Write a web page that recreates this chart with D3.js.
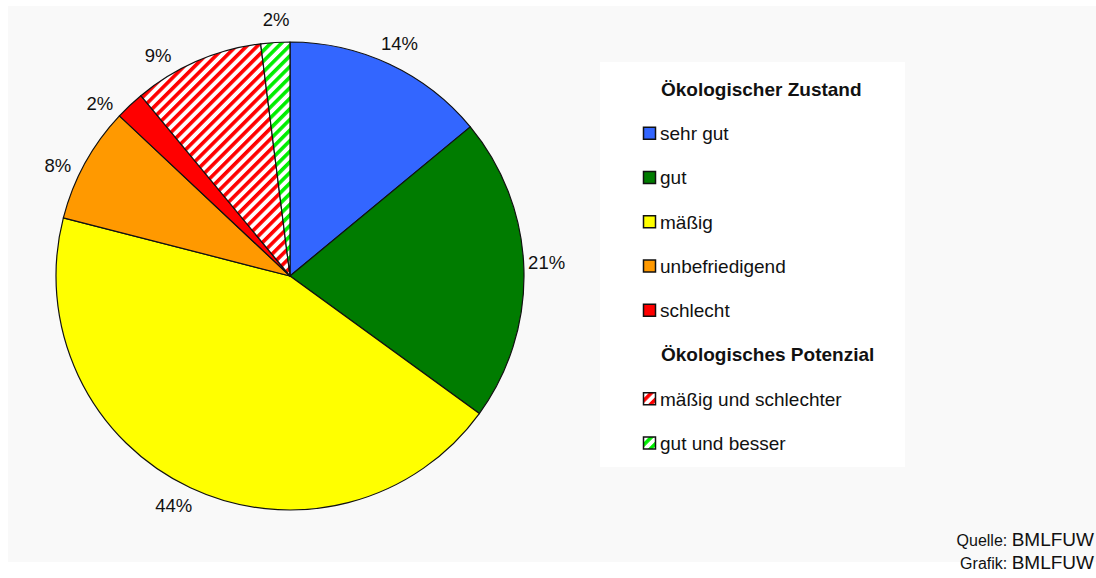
<!DOCTYPE html>
<html>
<head>
<meta charset="utf-8">
<script src="https://cdn.jsdelivr.net/npm/d3@7"></script>
<style>
	body { margin: 0; background: #fff; }
	svg { display: block; font-family: "Liberation Sans", Arial, sans-serif; }
</style>
</head>
<body>
<svg id="chart" width="1096" height="578"></svg>
<script>
// Ökologischer Zustand / Potenzial - pie chart

var categories = ['sehr gut', 'gut', 'mäßig', 'unbefriedigend', 'schlecht', 'mäßig und schlechter', 'gut und besser'];
var shares = [14, 21, 44, 8, 2, 9, 2];
var groups = ['Ökologischer Zustand', 'Ökologischer Zustand', 'Ökologischer Zustand', 'Ökologischer Zustand', 'Ökologischer Zustand', 'Ökologisches Potenzial', 'Ökologisches Potenzial'];
var colors = ['#3366ff', '#007c00', '#ffff00', '#ff9900', '#ff0000', 'hatch-red', 'hatch-green'];
// label angle shift in degrees (excel pushes left labels a bit)
var labelShift = [0, -1.3, 1.7, -3.4, -4.5, -7.5, 0.5];
var sourceLines = [['Quelle:', 'BMLFUW'], ['Grafik:', 'BMLFUW']];

var svg = d3.select('#chart');
var cx = 290, cy = 276, radius = 234;

// background panels
svg.append('rect').attr('x', 8).attr('y', 6).attr('width', 1088).attr('height', 556).attr('fill', '#f9f9f9');
svg.append('rect').attr('x', 600).attr('y', 62).attr('width', 305).attr('height', 405).attr('fill', '#ffffff');

// hatch patterns
var defs = svg.append('defs');
function hatch(id, col) {
	var p = defs.append('pattern').attr('id', id)
		.attr('patternUnits', 'userSpaceOnUse')
		.attr('width', 7.5).attr('height', 7.5)
		.attr('patternTransform', 'rotate(45)');
	p.append('rect').attr('width', 7.5).attr('height', 7.5).attr('fill', '#fff');
	p.append('rect').attr('width', 3.6).attr('height', 7.5).attr('fill', col);
}
hatch('hatch-red', '#ff0000');
hatch('hatch-green', '#00ee00');

function fillOf(c) {
	return c.indexOf('hatch') === 0 ? 'url(#' + c + ')' : c;
}

var pie = d3.pie().sort(null).value(function (d) { return d; });
var arcs = pie(shares);
var arc = d3.arc().innerRadius(0).outerRadius(radius);

var g = svg.append('g').attr('transform', 'translate(' + cx + ',' + cy + ')');

g.selectAll('path.slice')
	.data(arcs)
	.enter().append('path')
	.attr('class', 'slice')
	.attr('d', arc)
	.attr('fill', function (d, i) { return fillOf(colors[i]); })
	.attr('stroke', '#111')
	.attr('stroke-width', 1.2)
	.attr('stroke-linejoin', 'round');

// percent labels
var labelR = 257;
g.selectAll('text.pct')
	.data(arcs)
	.enter().append('text')
	.attr('class', 'pct')
	.attr('x', function (d, i) {
		var a = (d.startAngle + d.endAngle) / 2 + labelShift[i] * Math.PI / 180;
		return labelR * Math.sin(a);
	})
	.attr('y', function (d, i) {
		var a = (d.startAngle + d.endAngle) / 2 + labelShift[i] * Math.PI / 180;
		return -labelR * Math.cos(a);
	})
	.attr('text-anchor', 'middle')
	.attr('dy', '0.36em')
	.attr('font-size', 18.5)
	.attr('fill', '#111')
	.text(function (d) { return d.data + '%'; });

// legend
var legend = svg.append('g').attr('transform', 'translate(643,0)');
var rowStep = 44.25, rowY = 89;
var rows = [];
categories.forEach(function (c, i) {
	if (i === 0 || groups[i] !== groups[i - 1]) rows.push({title: groups[i]});
	rows.push({name: c, color: colors[i]});
});

var lrow = legend.selectAll('g.row')
	.data(rows)
	.enter().append('g')
	.attr('class', 'row')
	.attr('transform', function (d, i) { return 'translate(0,' + (rowY + i * rowStep) + ')'; });

lrow.filter(function (d) { return d.title; })
	.append('text')
	.attr('x', 18)
	.attr('dy', '0.36em')
	.attr('font-size', 19)
	.attr('font-weight', 'bold')
	.attr('fill', '#111')
	.text(function (d) { return d.title; });

var items = lrow.filter(function (d) { return !d.title; });
items.append('rect')
	.attr('x', 0.5).attr('y', -6)
	.attr('width', 12).attr('height', 12)
	.attr('fill', function (d) { return fillOf(d.color); })
	.attr('stroke', '#111')
	.attr('stroke-width', 1.5);
items.append('text')
	.attr('x', 17)
	.attr('dy', '0.36em')
	.attr('font-size', 19)
	.attr('fill', '#111')
	.text(function (d) { return d.name; });

// source note
var src = svg.append('g').attr('transform', 'translate(1094,0)');
sourceLines.forEach(function (l, i) {
	var t = src.append('text')
		.attr('y', 546 + i * 23)
		.attr('text-anchor', 'end')
		.attr('fill', '#111');
	t.append('tspan').attr('font-size', 16).text(l[0] + ' ');
	t.append('tspan').attr('font-size', 19).text(l[1]);
});
</script>
</body>
</html>
